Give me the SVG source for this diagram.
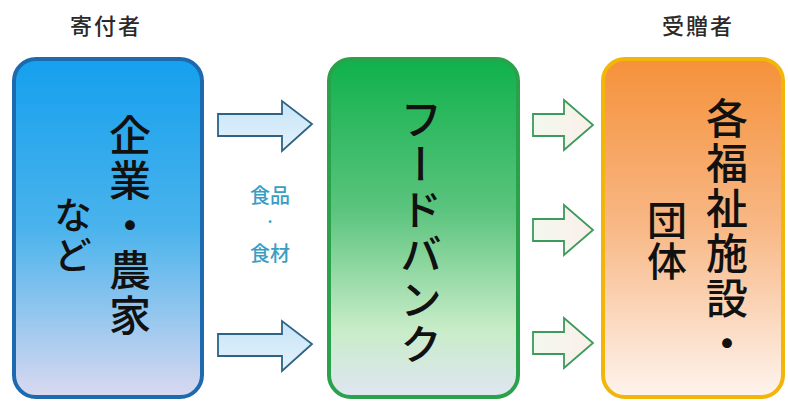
<svg xmlns="http://www.w3.org/2000/svg" width="788" height="402" viewBox="0 0 788 402">
<defs>
<linearGradient id="gBlue" x1="0" y1="0" x2="0" y2="1">
<stop offset="0" stop-color="#15a0ee"/>
<stop offset="0.5" stop-color="#4ab3ec"/>
<stop offset="1" stop-color="#dad9f0"/>
</linearGradient>
<linearGradient id="gGreen" x1="0" y1="0" x2="0" y2="1">
<stop offset="0" stop-color="#10b14c"/>
<stop offset="0.45" stop-color="#5cc47e"/>
<stop offset="0.8" stop-color="#c8ecc8"/>
<stop offset="1" stop-color="#dfe6f2"/>
</linearGradient>
<linearGradient id="gOrange" x1="0" y1="0" x2="0" y2="1">
<stop offset="0" stop-color="#f5913a"/>
<stop offset="0.5" stop-color="#f8b886"/>
<stop offset="1" stop-color="#fef4ee"/>
</linearGradient>
<linearGradient id="gArrowB" x1="0" y1="0" x2="0" y2="1">
<stop offset="0" stop-color="#c6e4f7"/>
<stop offset="1" stop-color="#e4f2fb"/>
</linearGradient>
<linearGradient id="gArrowG" x1="0" y1="0" x2="1" y2="0">
<stop offset="0" stop-color="#f2f8ee"/>
<stop offset="1" stop-color="#fbefe9"/>
</linearGradient>
<path id="arrowB" d="M0,-10 H64 V-23 L94,0 L64,27 V12 H0 Z"/>
<path id="arrowG" d="M0,-11 H31 V-25 L60,0 L31,25 V11 H0 Z"/>
</defs>
<style>
.title{font-family:"Noto Sans CJK JP","Noto Sans",sans-serif;font-size:22px;font-weight:500;letter-spacing:2px;fill:#2a2a2a;text-anchor:middle}
.vt{font-family:"Noto Sans CJK JP",sans-serif;font-weight:500;fill:#111;writing-mode:vertical-rl}
.food{font-family:"Noto Sans CJK JP",sans-serif;font-size:20px;font-weight:500;fill:#3a9ec4;text-anchor:middle}
.food.dot{font-size:12px}
.ab{fill:url(#gArrowB);stroke:#2e6385;stroke-width:1.8}
.ag{fill:url(#gArrowG);stroke:#3c9a5c;stroke-width:1.8}
</style>
<rect width="788" height="402" fill="#ffffff"/>
<g id="title-donor"><text class="title" x="106" y="34">寄付者</text></g>
<g id="title-recipient"><text class="title" x="698" y="34">受贈者</text></g>
<g id="node-donor">
<rect x="14" y="59" width="188" height="338" rx="22" fill="url(#gBlue)" stroke="#1e6aae" stroke-width="4"/>
<text class="vt" x="130" y="114" font-size="42" letter-spacing="3">企業・農家</text>
<text class="vt" x="73" y="196" font-size="38" letter-spacing="2">など</text>
</g>
<g id="node-foodbank">
<rect x="329" y="59" width="189" height="338" rx="22" fill="url(#gGreen)" stroke="#2aa24c" stroke-width="4"/>
<text class="vt" x="421" y="98" font-size="42" letter-spacing="3">フードバンク</text>
</g>
<g id="node-recipient">
<rect x="603" y="59" width="180" height="338" rx="22" fill="url(#gOrange)" stroke="#f2b50a" stroke-width="4"/>
<text class="vt" x="727" y="97" font-size="42" letter-spacing="3">各福祉施設・</text>
<text class="vt" x="667" y="200" font-size="40" letter-spacing="1">団体</text>
</g>
<g id="label-food">
<text class="food" x="270" y="203">食品</text>
<text class="food dot" x="270" y="227">・</text>
<text class="food" x="270" y="261">食材</text>
</g>
<g id="connectors">
<use href="#arrowB" class="ab" transform="translate(218,124)"/>
<use href="#arrowB" class="ab" transform="translate(218,344)"/>
<use href="#arrowG" class="ag" transform="translate(533,125)"/>
<use href="#arrowG" class="ag" transform="translate(533,230)"/>
<use href="#arrowG" class="ag" transform="translate(533,343)"/>
</g>
</svg>
